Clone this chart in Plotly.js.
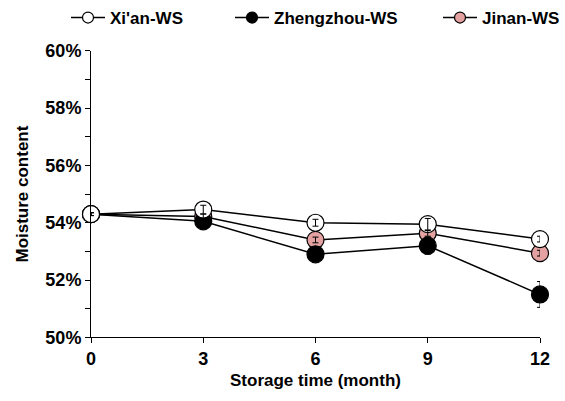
<!DOCTYPE html>
<html>
<head>
<meta charset="utf-8">
<script src="https://cdn.plot.ly/plotly-3.0.1.min.js"></script>
<style>body{margin:0;background:#fff}#chart{width:565px;height:401px}</style>
</head>
<body>
<div id="chart"></div>
<script>
const months = [0, 3, 6, 9, 12];
const xianWS = [54.3, 54.46, 54.0, 53.95, 53.43];
const xianErr = [0.05, 0.15, 0.12, 0.2, 0.1];
const zhengzhouWS = [54.3, 54.05, 52.9, 53.2, 51.5];
const zhengzhouErr = [0.05, 0.1, 0.1, 0.3, 0.45];
const jinanWS = [54.3, 54.22, 53.4, 53.63, 52.94];
const jinanErr = [0.05, 0.08, 0.1, 0.1, 0.1];
const seriesNames = ["Xi'an-WS", "Zhengzhou-WS", "Jinan-WS"];
const yTickVals = [50, 52, 54, 56, 58, 60];
const yTickText = ["50%", "52%", "54%", "56%", "58%", "60%"];
const xTickVals = [0, 3, 6, 9, 12];

const font = "Liberation Sans, Arial, sans-serif";
const W = 565, H = 401;
const fills = ['#fff', '#000', '#e3a1a1'];

function lineTrace(name, y, fill) {
  return {
    x: months, y: y, name: name, type: 'scatter', mode: 'lines+markers',
    showlegend: false,
    line: {color: '#000', width: 1.5},
    marker: {size: 17, color: fill, line: {color: '#000', width: 1.2}},
    cliponaxis: false
  };
}
function legendTrace(name, fill, legendId) {
  return {
    x: [null], y: [null], name: name, type: 'scatter', mode: 'lines+markers',
    legend: legendId,
    line: {color: '#000', width: 1.5},
    marker: {size: 11, color: fill, line: {color: '#000', width: 1.2}}
  };
}
function errTrace(y, err) {
  return {
    x: months, y: y, type: 'scatter', mode: 'markers', showlegend: false,
    hoverinfo: 'skip',
    marker: {size: 1, opacity: 0},
    error_y: {type: 'data', array: err, visible: true, color: '#000', thickness: 1, width: 3},
    cliponaxis: false
  };
}

const data = [
  lineTrace(seriesNames[2], jinanWS, fills[2]),
  lineTrace(seriesNames[1], zhengzhouWS, fills[1]),
  lineTrace(seriesNames[0], xianWS, fills[0]),
  errTrace(zhengzhouWS, zhengzhouErr),
  errTrace(jinanWS, jinanErr),
  errTrace(xianWS, xianErr),
  legendTrace(seriesNames[0], fills[0], 'legend'),
  legendTrace(seriesNames[1], fills[1], 'legend2'),
  legendTrace(seriesNames[2], fills[2], 'legend3')
];

function leg(px, anchor) {
  return {
    orientation: 'h', x: px / W, xanchor: anchor || 'left', y: 1 - 15 / H, yanchor: 'middle',
    font: {family: font, size: 17, weight: 'bold'}, itemwidth: 34,
    bgcolor: 'rgba(0,0,0,0)'
  };
}

const tickFont = {family: font, size: 18, weight: 'bold'};
const titleFont = {family: font, size: 17, weight: 'bold'};

const layout = {
  width: W, height: H,
  margin: {l: 0, r: 0, t: 0, b: 0},
  paper_bgcolor: '#fff', plot_bgcolor: '#fff',
  font: {family: font, color: '#000', size: 15},
  showlegend: true,
  legend: leg(66),
  legend2: leg(230),
  legend3: leg(565, 'right'),
  xaxis: {
    domain: [91 / W, 540 / W], automargin: false,
    range: [0, 12], tickvals: xTickVals, ticks: 'outside', ticklen: 5,
    tickcolor: '#000', showline: true, linecolor: '#000', linewidth: 1,
    showgrid: false, zeroline: false,
    tickfont: tickFont,
    title: {text: 'Storage time (month)', font: titleFont, standoff: 6}
  },
  yaxis: {
    domain: [(H - 337) / H, (H - 48) / H], automargin: false,
    range: [50, 60], tickvals: yTickVals, ticktext: yTickText, ticks: 'outside', ticklen: 5,
    tickcolor: '#000', showline: true, linecolor: '#000', linewidth: 1,
    showgrid: false, zeroline: false,
    minor: {dtick: 1, ticks: 'outside', ticklen: 5, tickcolor: '#000', showgrid: false},
    tickfont: tickFont,
    title: {text: 'Moisture content', font: titleFont, standoff: 12}
  }
};

Plotly.newPlot('chart', data, layout, {displayModeBar: false, staticPlot: true});
</script>
</body>
</html>
